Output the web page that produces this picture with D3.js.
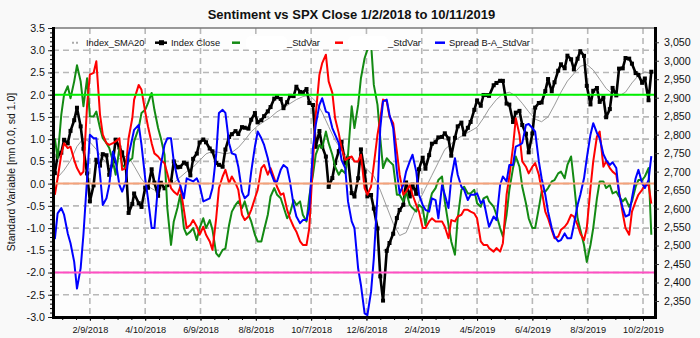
<!DOCTYPE html>
<html><head><meta charset="utf-8">
<script src="https://cdn.jsdelivr.net/npm/d3@7"></script>
<style>
html,body{margin:0;padding:0;background:#f9f9f9;}
svg{display:block;font-family:"Liberation Sans",Arial,sans-serif;}
</style></head><body>
<svg id="chart" width="700" height="338"></svg>
<script>
// Sampling dates (twice weekly) shared by the close and the three sentiment series
const tradeDates = ["2018-01-02","2018-01-05","2018-01-09","2018-01-12","2018-01-16","2018-01-19","2018-01-23","2018-01-26","2018-01-30","2018-02-02","2018-02-06","2018-02-09","2018-02-13","2018-02-16","2018-02-20","2018-02-23","2018-02-27","2018-03-02","2018-03-06","2018-03-09","2018-03-13","2018-03-16","2018-03-20","2018-03-23","2018-03-27","2018-03-29","2018-04-03","2018-04-06","2018-04-10","2018-04-13","2018-04-17","2018-04-20","2018-04-24","2018-04-27","2018-05-01","2018-05-04","2018-05-08","2018-05-11","2018-05-15","2018-05-18","2018-05-22","2018-05-25","2018-05-29","2018-06-01","2018-06-05","2018-06-08","2018-06-12","2018-06-15","2018-06-19","2018-06-22","2018-06-26","2018-06-29","2018-07-03","2018-07-06","2018-07-10","2018-07-13","2018-07-17","2018-07-20","2018-07-24","2018-07-27","2018-07-31","2018-08-03","2018-08-07","2018-08-10","2018-08-14","2018-08-17","2018-08-21","2018-08-24","2018-08-28","2018-08-31","2018-09-04","2018-09-07","2018-09-11","2018-09-14","2018-09-18","2018-09-21","2018-09-25","2018-09-28","2018-10-02","2018-10-05","2018-10-09","2018-10-12","2018-10-16","2018-10-19","2018-10-23","2018-10-26","2018-10-30","2018-11-02","2018-11-06","2018-11-09","2018-11-13","2018-11-16","2018-11-20","2018-11-23","2018-11-27","2018-11-30","2018-12-04","2018-12-07","2018-12-11","2018-12-14","2018-12-18","2018-12-21","2018-12-24","2018-12-28","2018-12-31",
"2019-01-04","2019-01-08","2019-01-11","2019-01-15","2019-01-18","2019-01-22","2019-01-25","2019-01-29","2019-02-01","2019-02-05","2019-02-08","2019-02-12","2019-02-15","2019-02-19","2019-02-22","2019-02-26","2019-03-01","2019-03-05","2019-03-08","2019-03-12","2019-03-15","2019-03-19","2019-03-22","2019-03-26","2019-03-29","2019-04-02","2019-04-05","2019-04-09","2019-04-12","2019-04-16","2019-04-18","2019-04-23","2019-04-26","2019-04-30","2019-05-03","2019-05-07","2019-05-10","2019-05-14","2019-05-17","2019-05-21","2019-05-24","2019-05-28","2019-05-31","2019-06-04","2019-06-07","2019-06-11","2019-06-14","2019-06-18","2019-06-21","2019-06-25","2019-06-28","2019-07-02","2019-07-05","2019-07-09","2019-07-12","2019-07-16","2019-07-19","2019-07-23","2019-07-26","2019-07-30","2019-08-02","2019-08-06","2019-08-09","2019-08-13","2019-08-16","2019-08-20","2019-08-23","2019-08-27","2019-08-30","2019-09-03","2019-09-06","2019-09-10","2019-09-13","2019-09-17","2019-09-20","2019-09-24","2019-09-27","2019-10-01","2019-10-04","2019-10-08","2019-10-11"];

// SPX close (right axis)
const indexClose = [2695.8,2743.2,2751.3,2786.2,2776.4,2810.3,2839.1,2872.9,2822.4,2762.1,2695.1,2619.6,2662.9,2732.2,2716.3,2747.3,2744.3,2691.3,2728.1,2786.6,2765.3,2752.0,2716.9,2588.3,2612.6,2640.9,2614.5,2604.5,2656.9,2656.3,2706.4,2670.1,2634.6,2669.9,2654.8,2663.4,2671.9,2727.7,2711.5,2712.9,2724.4,2721.3,2689.9,2734.6,2748.8,2779.0,2786.9,2779.4,2762.6,2754.9,2723.1,2718.4,2713.2,2759.8,2793.8,2801.3,2809.6,2801.8,2820.4,2818.8,2816.3,2840.4,2858.5,2833.3,2839.1,2850.1,2863.0,2874.7,2897.5,2901.5,2896.7,2871.7,2887.9,2905.0,2904.3,2929.7,2915.6,2914.0,2923.4,2885.6,2880.3,2767.1,2809.9,2767.8,2740.7,2658.7,2682.6,2723.1,2755.5,2781.0,2722.2,2736.3,2641.9,2632.6,2682.2,2760.2,2700.1,2633.1,2636.8,2600.0,2546.2,2416.6,2351.1,2485.7,2506.9,
2531.9,2574.4,2596.3,2610.3,2670.7,2632.9,2664.8,2640.0,2706.5,2737.7,2707.9,2744.7,2775.6,2779.8,2792.7,2793.9,2803.7,2789.7,2743.1,2791.5,2822.5,2832.6,2800.7,2818.5,2834.4,2867.2,2892.7,2878.2,2907.4,2907.1,2905.0,2933.7,2939.9,2945.8,2945.6,2884.1,2881.4,2834.4,2859.5,2864.4,2826.1,2802.4,2752.1,2803.3,2873.3,2885.7,2887.0,2917.8,2950.5,2917.4,2941.8,2973.0,2990.4,2979.6,3013.8,3004.0,2976.6,3005.5,3025.9,3013.2,2932.1,2881.8,2918.7,2926.3,2888.7,2900.5,2847.1,2869.2,2926.5,2906.3,2978.7,2979.4,3007.4,3005.7,2992.1,2966.6,2961.8,2940.3,2952.0,2893.1,2970.3];

// 20-day moving average of the close, weekly (right axis)
const smaDates = ["2018-01-05","2018-01-12","2018-01-19","2018-01-26","2018-02-02","2018-02-09","2018-02-16","2018-02-23","2018-03-02","2018-03-09","2018-03-16","2018-03-23","2018-03-29","2018-04-06","2018-04-13","2018-04-20","2018-04-27","2018-05-04","2018-05-11","2018-05-18","2018-05-25","2018-06-01","2018-06-08","2018-06-15","2018-06-22","2018-06-29","2018-07-06","2018-07-13","2018-07-20","2018-07-27","2018-08-03","2018-08-10","2018-08-17","2018-08-24","2018-08-31","2018-09-07","2018-09-14","2018-09-21","2018-09-28","2018-10-05","2018-10-12","2018-10-19","2018-10-26","2018-11-02","2018-11-09","2018-11-16","2018-11-23","2018-11-30","2018-12-07","2018-12-14","2018-12-21","2018-12-28",
"2019-01-04","2019-01-11","2019-01-18","2019-01-25","2019-02-01","2019-02-08","2019-02-15","2019-02-22","2019-03-01","2019-03-08","2019-03-15","2019-03-22","2019-03-29","2019-04-05","2019-04-12","2019-04-18","2019-04-26","2019-05-03","2019-05-10","2019-05-17","2019-05-24","2019-05-31","2019-06-07","2019-06-14","2019-06-21","2019-06-28","2019-07-05","2019-07-12","2019-07-19","2019-07-26","2019-08-02","2019-08-09","2019-08-16","2019-08-23","2019-08-30","2019-09-06","2019-09-13","2019-09-20","2019-09-27","2019-10-04","2019-10-11"];
const indexSma20 = [2684,2704,2730,2768,2790,2780,2760,2735,2715,2725,2742,2740,2715,2680,2660,2650,2655,2662,2670,2685,2700,2712,2730,2748,2755,2752,2748,2752,2765,2785,2808,2824,2836,2847,2862,2872,2884,2895,2903,2907,2890,2860,2822,2785,2758,2740,2728,2720,2705,2688,2650,2605,
2560,2527,2535,2578,2620,2655,2690,2725,2760,2775,2790,2800,2810,2820,2845,2870,2895,2910,2915,2905,2885,2862,2842,2835,2848,2880,2915,2945,2965,2985,2990,2975,2950,2925,2910,2905,2915,2940,2960,2970,2965];

// Sentiment series, standardised (left axis)
const greenStdVar = [1.02,0.57,1.55,2.0,2.19,1.92,2.3,2.66,2.3,1.74,2.37,1.51,1.51,1.62,1.25,1.02,0.91,0.8,0.5,0.2,0.8,0.42,0.35,0.5,0.57,0.95,1.25,1.59,1.66,1.81,2.04,1.66,1.25,1.02,0.65,-0.55,-1.38,-0.85,-0.55,-0.25,-1.0,-1.15,-1.08,-1.0,-1.27,-1.0,
-0.78,-1.0,-0.82,-1.04,-1.57,-1.64,-1.49,-1.46,-0.93,-0.63,-0.48,-0.4,-0.55,-0.4,-0.7,-0.85,-1.15,-1.3,-1.3,-1.04,-0.7,-0.29,-0.1,-0.25,-0.33,-0.52,-0.78,-0.67,-0.37,-0.48,-0.4,-0.7,-0.85,-0.29,0.2,0.65,0.87,0.8,1.17,0.91,0.65,0.38,0.2,0.31,0.23,0.65,1.74,1.25,
1.77,2.37,2.82,3.01,3.16,2.22,1.77,1.02,0.35,0.57,0.5,0.42,-0.25,-0.25,-0.4,-0.18,-0.48,-0.55,-0.63,-0.48,-0.55,-0.93,-0.48,-0.22,-0.1,0.08,0.16,-0.4,-0.93,-1.3,-1.6,-0.78,-0.14,-0.07,-0.22,-0.22,-0.14,-0.44,-0.52,-0.33,-0.29,-0.4,-0.52,-0.7,-1.0,-1.19,
-0.7,-0.14,0.35,0.61,0.38,-0.07,-0.44,-0.78,-1.0,-1.0,-0.55,-0.18,-0.18,-0.1,0.05,0.08,0.23,0.27,0.12,0.42,0.61,0.05,-0.78,-1.04,-1.38,-1.76,-1.38,-1.0,-0.33,0.05,0.05,-0.1,-0.03,-0.22,-0.18,-0.29,-0.4,-0.33,-0.52,-0.4,-0.07,0.08,0.08,0.16,0.35,-1.15];

const redStdVar = [-0.25,0.12,0.65,0.91,0.8,0.83,0.53,0.35,0.2,0.27,1.77,2.45,2.49,2.75,1.55,1.1,0.91,0.87,0.91,0.95,1.02,0.31,0.35,1.02,1.47,1.89,2.22,2.11,1.62,1.29,0.91,0.68,0.61,0.53,0.46,0.23,-0.1,-0.18,-0.25,-0.07,-0.59,-1.0,-0.93,-0.82,-0.97,-1.15,
-0.97,-1.15,-1.3,-1.49,-0.78,-0.1,0.16,0.31,0.01,0.16,0.01,-0.14,-0.7,-0.82,-0.74,-0.59,-0.33,-0.14,0.35,0.42,0.2,0.35,0.12,-0.07,-0.25,-0.22,-0.59,-0.78,-0.97,-1.08,-1.3,-1.38,-1.38,-1.0,0.5,1.55,2.45,2.71,2.9,2.3,2.04,1.47,1.13,0.8,0.53,0.57,0.61,0.5,
0.5,0.65,-0.1,-0.25,-0.07,0.42,1.1,1.47,1.89,1.85,1.51,1.36,0.72,0.2,-0.25,-0.18,-0.03,-0.25,-0.48,-0.63,-1.0,-1.0,-0.85,-0.78,-0.85,-0.85,-0.85,-0.97,-1.23,-0.82,-0.85,-0.74,-0.7,-0.59,-0.59,-0.63,-0.67,-0.78,-1.3,-1.38,-1.38,-1.45,-1.53,-1.45,-1.53,-1.34,
-0.25,0.16,0.83,1.47,1.1,0.5,0.38,0.23,0.38,0.46,0.2,-0.14,-0.63,-0.78,-1.04,-1.23,-1.19,-1.04,-0.97,-0.89,-0.7,-0.74,-0.93,-1.12,-1.27,-1.0,-0.1,0.5,1.06,1.17,0.38,0.5,0.35,0.27,0.2,-0.18,-0.67,-1.0,-1.15,-0.63,-0.4,-0.25,-0.14,-0.03,-0.03,-0.45];

const spreadStdVar = [-1.25,-0.67,-0.55,-0.7,-1.12,-1.34,-1.76,-2.36,-1.9,-1.15,0.12,1.1,1.02,1.02,0.2,-0.48,-0.33,-0.03,0.72,0.5,-0.03,-0.18,0.05,0.65,1.02,1.21,1.32,0.87,0.12,-0.33,-1.0,-1.0,-0.03,0.42,0.87,1.02,1.02,0.5,0.12,-0.03,-0.33,0.12,0.08,0.05,0.12,-0.03,
-0.4,-0.37,-0.33,-0.1,0.65,1.59,1.66,1.59,0.91,0.68,0.65,0.38,-0.18,-0.33,-0.25,0.27,0.83,1.17,1.02,0.87,0.57,0.27,0.05,0.05,0.31,0.42,0.35,0.05,-0.48,-0.74,-0.89,-0.82,-0.82,-0.55,0.8,1.32,1.77,1.92,1.62,1.59,1.25,1.1,0.91,0.53,0.35,-0.4,-0.85,-1.0,
-1.91,-2.28,-2.92,-2.96,-2.43,-1.68,-0.25,1.25,1.85,1.89,1.55,1.25,0.27,-0.22,-0.03,0.27,0.5,0.65,0.27,-0.25,-0.48,-0.59,-0.63,-0.33,-0.37,-0.78,-0.03,-0.25,-0.55,0.12,0.57,0.2,-0.07,-0.14,-0.37,-0.25,-0.25,-0.22,-0.44,-0.37,-0.78,-0.97,-0.74,-0.82,-0.03,0.16,
0.05,0.42,0.42,0.83,0.87,0.91,1.32,1.34,1.25,1.17,0.5,0.12,-0.25,-0.63,-1.0,-1.19,-1.3,-1.27,-1.12,-1.23,-1.23,-0.93,-0.48,-0.25,0.12,0.57,1.1,1.36,1.14,1.02,0.66,0.53,0.42,0.48,0.35,-0.22,-0.55,-0.74,-0.7,-0.33,0.12,0.31,0.01,-0.1,0.08,0.62];

// Axis ticks and labels
const leftTicks = [-3.0,-2.5,-2.0,-1.5,-1.0,-0.5,0.0,0.5,1.0,1.5,2.0,2.5,3.0,3.5];
const rightTicks = [2350,2400,2450,2500,2550,2600,2650,2700,2750,2800,2850,2900,2950,3000,3050];
const dateTicks = ["2018-02-09","2018-04-10","2018-06-09","2018-08-08","2018-10-07","2018-12-06","2019-02-04","2019-04-05","2019-06-04","2019-08-03","2019-10-02"];
const refLevels = [2.0, 0.0, -2.0];
const refColors = ["#00f000", "#f5a27a", "#ff4fc3"];

const parse = d3.timeParse("%Y-%m-%d");
const svg = d3.select("#chart");
const L = 53, R = 655, T = 28, B = 317;

const x = d3.scaleTime().domain([parse("2017-12-31"), parse("2019-10-15")]).range([L, R]);
const yL = d3.scaleLinear().domain([-3, 3.5]).range([B, T]);
const yR = d3.scaleLinear().domain([2306.7, 3088.6]).range([B, T]);

// plot background
svg.append("rect").attr("x", L).attr("y", T).attr("width", R - L).attr("height", B - T).attr("fill", "#fdfdfd");

// grid
const grid = svg.append("g").attr("stroke", "#b8b8b8").attr("stroke-width", 1.6).attr("stroke-dasharray", "6,4");
grid.selectAll("line.h").data(leftTicks.filter(v => v > -3 && v < 3.5)).join("line")
  .attr("x1", L).attr("x2", R).attr("y1", d => yL(d)).attr("y2", d => yL(d));
grid.selectAll("line.v").data(dateTicks).join("line")
  .attr("x1", d => x(parse(d))).attr("x2", d => x(parse(d))).attr("y1", T).attr("y2", B);

// top border
svg.append("line").attr("x1", L).attr("x2", R).attr("y1", T).attr("y2", T).attr("stroke", "#777").attr("stroke-width", 1.5);

// series
const closePts = tradeDates.map((d, i) => [parse(d), indexClose[i]]);
const smaPts = smaDates.map((d, i) => [parse(d), indexSma20[i]]);
const lineR = d3.line().x(d => x(d[0])).y(d => yR(d[1]));
const lineL = d3.line().x(d => x(d[0])).y(d => yL(d[1]));

svg.append("path").attr("d", lineR(smaPts)).attr("fill", "none").attr("stroke", "#9a9a9a").attr("stroke-width", 1);
svg.append("path").attr("d", lineR(closePts)).attr("fill", "none").attr("stroke", "#000").attr("stroke-width", 2.6).attr("stroke-linejoin", "round");
svg.append("g").selectAll("rect").data(closePts).join("rect")
  .attr("x", d => x(d[0]) - 2).attr("y", d => yR(d[1]) - 2).attr("width", 4).attr("height", 4).attr("fill", "#000");

const sentiment = [
  {vals: greenStdVar, color: "#138a13"},
  {vals: redStdVar, color: "#ff0000"},
  {vals: spreadStdVar, color: "#0000ff"}
];
sentiment.forEach(s => {
  const pts = tradeDates.map((d, i) => [parse(d), s.vals[i]]);
  svg.append("path").attr("d", lineL(pts)).attr("fill", "none").attr("stroke", s.color)
    .attr("stroke-width", 2).attr("stroke-linejoin", "round");
});

// reference levels
refLevels.forEach((v, i) => {
  svg.append("line").attr("x1", L).attr("x2", R).attr("y1", yL(v)).attr("y2", yL(v))
    .attr("stroke", refColors[i]).attr("stroke-width", 2);
});

// axes
const fmt1 = d => d.toFixed(1);
const gL = svg.append("g").attr("transform", `translate(${L},0)`)
  .call(d3.axisLeft(yL).tickValues(leftTicks).tickFormat(fmt1).tickSize(5).tickSizeOuter(0));
svg.append("g").attr("transform", `translate(${L},0)`)
  .call(d3.axisLeft(yL).tickValues(d3.range(-30, 36).map(v => v / 10)).tickFormat("").tickSize(3).tickSizeOuter(0))
  .call(g => g.select(".domain").remove());
const gR = svg.append("g").attr("transform", `translate(${R},0)`)
  .call(d3.axisRight(yR).tickValues(rightTicks).tickFormat(d3.format(",")).tickSize(4).tickSizeOuter(0));
const gB = svg.append("g").attr("transform", `translate(0,${B})`)
  .call(d3.axisBottom(x).tickValues(dateTicks.map(parse)).tickFormat(d3.timeFormat("%-m/%-d/%Y")).tickSize(4).tickSizeOuter(0));
svg.append("g").attr("transform", `translate(0,${B})`)
  .call(d3.axisBottom(x).tickValues(d3.range(-2, 43).map(k => d3.timeDay.offset(parse("2018-02-09"), k * 15)).filter(d => x(d) > L && x(d) < R)).tickFormat("").tickSize(3).tickSizeOuter(0))
  .call(g => g.select(".domain").remove());

[gL, gR, gB].forEach(g => {
  g.select(".domain").attr("stroke", "#000").attr("stroke-width", 3);
  g.selectAll(".tick line").attr("stroke", "#333");
  g.selectAll("text").attr("fill", "#111");
});
gL.selectAll("text").attr("font-size", 10.7).attr("x", -8);
gR.selectAll("text").attr("font-size", 10.7).attr("x", 9);
gB.selectAll("text").attr("font-size", 9.2).attr("y", 9);
svg.selectAll(".domain").attr("stroke-linecap", "square");

// title
svg.append("text").attr("x", 351.5).attr("y", 19).attr("text-anchor", "middle")
  .attr("font-size", 13).attr("font-weight", "bold").attr("fill", "#111")
  .text("Sentiment vs SPX Close 1/2/2018 to 10/11/2019");

// y-axis title
svg.append("text").attr("transform", "translate(15,172) rotate(-90)").attr("text-anchor", "middle")
  .attr("font-size", 10.5).attr("fill", "#111").text("Standard Variable [mn 0.0, sd 1.0]");

// legend
const legend = svg.append("g").attr("font-size", 9.3).attr("fill", "#111");
const ly = 42.7, lt = 46;
legend.append("line").attr("x1", 72).attr("x2", 79).attr("y1", ly).attr("y2", ly)
  .attr("stroke", "#aaa").attr("stroke-width", 2).attr("stroke-dasharray", "2,2");
legend.append("text").attr("x", 86).attr("y", lt).text("Index_SMA20");
legend.append("line").attr("x1", 155).attr("x2", 167).attr("y1", ly).attr("y2", ly).attr("stroke", "#000").attr("stroke-width", 2.5);
legend.append("rect").attr("x", 159).attr("y", ly - 2.5).attr("width", 5).attr("height", 5).attr("fill", "#000");
legend.append("text").attr("x", 171).attr("y", lt).text("Index Close");
legend.append("line").attr("x1", 232).attr("x2", 240).attr("y1", ly).attr("y2", ly).attr("stroke", "#138a13").attr("stroke-width", 2.5);
legend.append("rect").attr("x", 246).attr("y", 36).attr("width", 41).attr("height", 14).attr("rx", 5).attr("fill", "#fff");
legend.append("text").attr("x", 287).attr("y", lt).text("_StdVar");
legend.append("line").attr("x1", 335).attr("x2", 343).attr("y1", ly).attr("y2", ly).attr("stroke", "#ff0000").attr("stroke-width", 2.5);
legend.append("rect").attr("x", 348).attr("y", 36).attr("width", 40).attr("height", 14).attr("rx", 5).attr("fill", "#fff");
legend.append("text").attr("x", 388).attr("y", lt).text("_StdVar");
legend.append("line").attr("x1", 435).attr("x2", 445).attr("y1", ly).attr("y2", ly).attr("stroke", "#0000ff").attr("stroke-width", 2.5);
legend.append("text").attr("x", 449).attr("y", lt).text("Spread B-A_StdVar");
</script>
</body></html>
